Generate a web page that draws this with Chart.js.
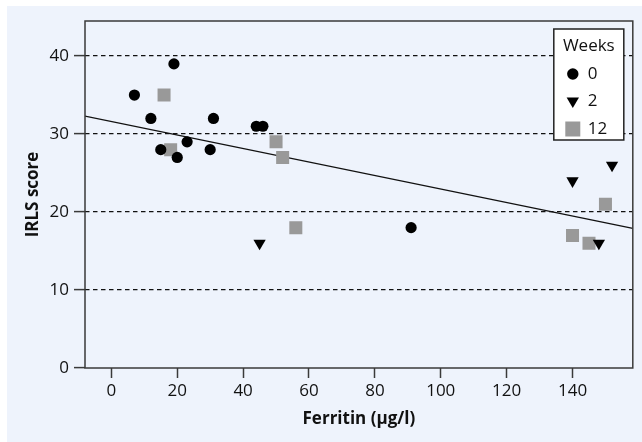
<!DOCTYPE html>
<html>
<head>
<meta charset="utf-8">
<script src="https://cdn.jsdelivr.net/npm/chart.js@4.4.1/dist/chart.umd.min.js"></script>
<style>
    html, body { margin: 0; padding: 0; background: #ffffff; }
    #wrap { width: 642px; height: 442px; position: relative; }
</style>
</head>
<body>
<div id="wrap"><canvas id="ferritin-irls"></canvas></div>
<script>
// values
var week0Ferritin = [7, 12, 15, 19, 20, 23, 30, 31, 44, 46, 91];
var week0Irls = [35, 32, 28, 39, 27, 29, 28, 32, 31, 31, 18];
var week2Ferritin = [45, 140, 148, 152];
var week2Irls = [16, 24, 16, 26];
var week12Ferritin = [16, 18, 50, 52, 56, 140, 145, 150];
var week12Irls = [35, 28, 29, 27, 18, 17, 16, 21];
var fitFerritin = [-8, 158.3];
var fitIrls = [32.3, 17.9];
var xTicks = [0, 20, 40, 60, 80, 100, 120, 140];
var yTicks = [0, 10, 20, 30, 40];
var weekLabels = ['0', '2', '12'];

function toPoints(xs, ys) {
    return xs.map(function(x, i) { return {x: x, y: ys[i]}; });
}

document.addEventListener("DOMContentLoaded", function() {
    const canvas = document.getElementById('ferritin-irls');
    const tickFont = {family: "'Open Sans', sans-serif", size: 17};
    const titleFont = {family: "'Open Sans', sans-serif", size: 17, weight: 'bold'};

    // light blue panel, frame and the boxed legend
    const decorations = {
        id: 'decorations',
        beforeDraw: function(chart) {
            const ctx = chart.ctx;
            ctx.save();
            ctx.fillStyle = '#eef3fc';
            ctx.fillRect(7, 6, chart.width - 7, chart.height - 6);
            ctx.restore();
        },
        afterDraw: function(chart) {
            const ctx = chart.ctx;
            const a = chart.chartArea;
            ctx.save();
            ctx.strokeStyle = '#3a3a3a';
            ctx.lineWidth = 1.5;
            ctx.strokeRect(a.left, a.top, a.right - a.left, a.bottom - a.top);

            // legend box
            const bx = a.right - 79, by = a.top + 8, bw = 70, bh = 111;
            ctx.fillStyle = '#ffffff';
            ctx.fillRect(bx, by, bw, bh);
            ctx.strokeStyle = '#222';
            ctx.lineWidth = 1.5;
            ctx.strokeRect(bx, by, bw, bh);

            ctx.fillStyle = '#111';
            ctx.font = "17px 'Open Sans', sans-serif";
            ctx.textBaseline = 'middle';
            ctx.textAlign = 'center';
            ctx.fillText('Weeks', bx + bw / 2, by + 17);

            ctx.textAlign = 'left';
            for (let i = 0; i < weekLabels.length; i++) {
                const ds = chart.data.datasets[i];
                const cx = bx + 19, cy = by + 45 + i * 27.5;
                ctx.fillStyle = ds.backgroundColor;
                ctx.beginPath();
                if (ds.pointStyle === 'circle') {
                    ctx.arc(cx, cy, 5.7, 0, Math.PI * 2);
                } else if (ds.pointStyle === 'triangle') {
                    ctx.moveTo(cx - 6.2, cy - 4);
                    ctx.lineTo(cx + 6.2, cy - 4);
                    ctx.lineTo(cx, cy + 6.5);
                    ctx.closePath();
                } else {
                    ctx.rect(cx - 7.5, cy - 7.5, 15, 15);
                }
                ctx.fill();
                ctx.fillStyle = '#111';
                ctx.fillText(weekLabels[i], bx + 34, cy);
            }
            ctx.restore();
        }
    };

    new Chart(canvas, {
        type: 'scatter',
        data: {
            datasets: [{
                label: weekLabels[0],
                data: toPoints(week0Ferritin, week0Irls),
                pointStyle: 'circle',
                backgroundColor: '#000000',
                borderWidth: 0,
                pointRadius: 5.6
            }, {
                label: weekLabels[1],
                data: toPoints(week2Ferritin, week2Irls),
                pointStyle: 'triangle',
                rotation: 180,
                backgroundColor: '#000000',
                borderWidth: 0,
                pointRadius: 7.1
            }, {
                label: weekLabels[2],
                data: toPoints(week12Ferritin, week12Irls),
                pointStyle: 'rect',
                backgroundColor: '#999999',
                borderWidth: 0,
                pointRadius: 9.2
            }, {
                label: 'fit',
                type: 'line',
                data: toPoints(fitFerritin, fitIrls),
                showLine: true,
                borderColor: '#111111',
                borderWidth: 1.4,
                pointRadius: 0,
                fill: false
            }]
        },
        options: {
            responsive: true,
            maintainAspectRatio: false,
            animation: false,
            layout: {
                padding: {left: 0, top: 21, right: 8, bottom: 0}
            },
            plugins: {
                legend: {display: false},
                tooltip: {enabled: false}
            },
            scales: {
                x: {
                    type: 'linear',
                    min: -8,
                    max: 158.3,
                    afterBuildTicks: function(scale) {
                        scale.ticks = xTicks.map(function(v) { return {value: v}; });
                    },
                    afterFit: function(scale) { scale.height = 74; },
                    border: {display: false},
                    grid: {
                        drawOnChartArea: false,
                        drawTicks: true,
                        tickLength: 10,
                        tickColor: '#3a3a3a',
                        tickWidth: 1.5
                    },
                    ticks: {
                        font: tickFont,
                        color: '#111',
                        padding: 3,
                        maxRotation: 0
                    },
                    title: {
                        display: true,
                        text: 'Ferritin (µg/l)',
                        font: titleFont,
                        color: '#111',
                        padding: {top: 0, bottom: 13}
                    }
                },
                y: {
                    min: 0,
                    max: 44.5,
                    afterBuildTicks: function(scale) {
                        scale.ticks = yTicks.map(function(v) { return {value: v}; });
                    },
                    afterFit: function(scale) { scale.width = 85; },
                    border: {display: false, dash: [4.5, 3.5]},
                    grid: {
                        color: function(context) {
                            return context.tick && context.tick.value === 0 ? 'rgba(0,0,0,0)' : '#111111';
                        },
                        lineWidth: 1.2,
                        drawTicks: true,
                        tickLength: 11,
                        tickColor: '#3a3a3a',
                        tickWidth: 1.5
                    },
                    ticks: {
                        font: tickFont,
                        color: '#111',
                        padding: 5
                    },
                    title: {
                        display: true,
                        text: 'IRLS score',
                        font: titleFont,
                        color: '#111',
                        padding: {top: 23, bottom: 0}
                    }
                }
            }
        },
        plugins: [decorations]
    });
});
</script>
</body>
</html>
